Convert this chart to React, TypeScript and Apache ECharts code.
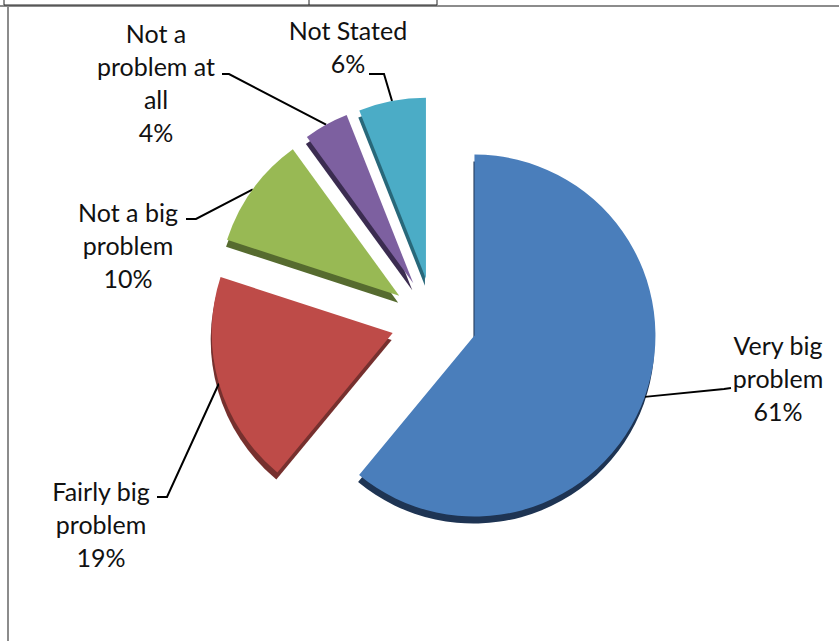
import React, { useEffect, useRef } from 'react';
import * as echarts from 'echarts';

const categories = ['Very big problem', 'Fairly big problem', 'Not a big problem', 'Not a problem at all', 'Not Stated'];
const values = [61, 19, 10, 4, 6];
const labelTextLines = [
  ['Very big', 'problem'],
  ['Fairly big', 'problem'],
  ['Not a big', 'problem'],
  ['Not a', 'problem at', 'all'],
  ['Not Stated'],
];
const topColors = ['#4A7EBB', '#BE4B48', '#98B954', '#7D60A0', '#4BACC6'];
const sideColors = ['#1E3453', '#76302E', '#566B2F', '#3B2C50', '#28687A'];
// label layout (centre of each label block) and the elbow / end of its leader line
const labelCenters = [[778, 378], [101, 524], [128, 245], [156, 82], [348, 46]];
const leaderElbows = [[724, 389], [167, 497], [196, 219], [229, 74], [384, 74]];
const leaderEnds = [[731, 388], [157, 497], [186, 219], [222, 74], [369, 74]];

const EXPLODE = 43;

export default function App() {
  const ref = useRef<HTMLDivElement>(null);
  useEffect(() => {
    if (!ref.current) return;
    const chart = echarts.init(ref.current, null, { renderer: 'svg' });
    const total = values.reduce((a, b) => a + b, 0);
    let acc = 0;
    const explodeShift = values.map((v) => {
      const mid = ((acc + v / 2) / total) * Math.PI * 2;
      acc += v;
      return [EXPLODE * Math.sin(mid), -EXPLODE * Math.cos(mid)];
    });
    const topData = categories.map((name, i) => ({
      name,
      value: values[i],
      selected: true,
      itemStyle: { color: topColors[i] },
    }));
    const sideData = categories.map((name, i) => ({
      name,
      value: values[i],
      selected: true,
      itemStyle: { color: sideColors[i] },
    }));
    chart.setOption({
      animation: false,
      backgroundColor: '#ffffff',
      graphic: [
        { type: 'line', shape: { x1: 0, y1: 6, x2: 839, y2: 6 }, style: { stroke: '#8c8c8c', lineWidth: 2 }, z: 10 },
        { type: 'line', shape: { x1: 8, y1: 6, x2: 8, y2: 641 }, style: { stroke: '#8c8c8c', lineWidth: 2 }, z: 10 },
        { type: 'line', shape: { x1: 4, y1: 5, x2: 437, y2: 5 }, style: { stroke: '#222', lineWidth: 1 }, z: 11 },
        { type: 'line', shape: { x1: 4, y1: 0, x2: 4, y2: 5 }, style: { stroke: '#222', lineWidth: 1 }, z: 11 },
        { type: 'line', shape: { x1: 309, y1: 0, x2: 309, y2: 5 }, style: { stroke: '#222', lineWidth: 1 }, z: 11 },
        { type: 'line', shape: { x1: 437, y1: 0, x2: 437, y2: 5 }, style: { stroke: '#222', lineWidth: 1 }, z: 11 },
      ],
      series: [
        {
          type: 'pie',
          silent: true,
          z: 1,
          center: [433, 328],
          radius: 181,
          startAngle: 90,
          selectedMode: 'multiple',
          selectedOffset: EXPLODE,
          label: { show: false },
          labelLine: { show: false },
          emphasis: { disabled: true },
          data: sideData,
        },
        {
          type: 'pie',
          z: 2,
          center: [434, 321],
          radius: 181,
          startAngle: 90,
          selectedMode: 'multiple',
          selectedOffset: EXPLODE,
          avoidLabelOverlap: false,
          emphasis: { disabled: true },
          label: {
            show: true,
            position: 'outside',
            fontFamily: 'Lato',
            fontSize: 25,
            lineHeight: 33,
            color: '#111',
            formatter: (p: any) => {
              const lines = [...labelTextLines[p.dataIndex], `${values[p.dataIndex]}%`];
              return lines.map((l) => `{c|${l}}`).join('\n');
            },
            rich: {
              c: { align: 'center', fontFamily: 'Lato', fontSize: 25, lineHeight: 33, color: '#111' },
            },
          },
          labelLine: {
            show: true,
            length: 20,
            length2: 12,
            lineStyle: { color: '#000', width: 2 },
          },
          labelLayout: (params: any) => {
            const i = params.dataIndex;
            const c = labelCenters[i];
            const r = params.labelRect;
            const s = explodeShift[i];
            const start = params.labelLinePoints ? params.labelLinePoints[0] : [leaderElbows[i][0] - s[0], leaderElbows[i][1] - s[1]];
            return {
              dx: c[0] - (r.x + r.width / 2) - s[0],
              dy: c[1] - (r.y + r.height / 2) - s[1],
              labelLinePoints: [
                start,
                [leaderElbows[i][0] - s[0], leaderElbows[i][1] - s[1]],
                [leaderEnds[i][0] - s[0], leaderEnds[i][1] - s[1]],
              ],
            };
          },
          data: topData,
        },
      ],
    });
    return () => chart.dispose();
  }, []);
  return <div ref={ref} style={{ position: 'absolute', left: 0, top: 0, width: 839, height: 641 }} />;
}
